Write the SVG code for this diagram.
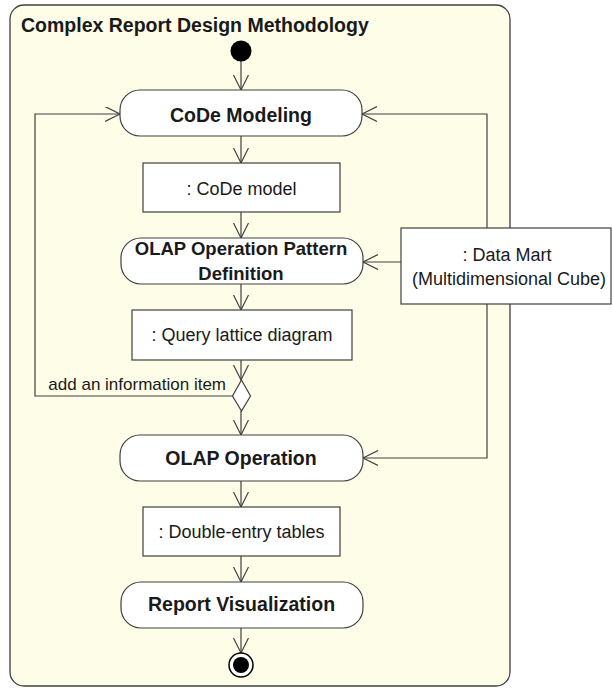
<svg xmlns="http://www.w3.org/2000/svg" width="613" height="688" viewBox="0 0 613 688">
<style>
  .frame{fill:#fdfde8;stroke:#404040;stroke-width:1.3}
  .act{fill:#ffffff;stroke:#404040;stroke-width:1.2}
  .obj{fill:#ffffff;stroke:#404040;stroke-width:1.2}
  .edge{fill:none;stroke:#404040;stroke-width:1.2}
  .b{font-family:"Liberation Sans",Arial,sans-serif;font-weight:bold;font-size:19.5px;fill:#1a1a1a;text-anchor:middle}
  .b2{font-size:18.5px}
  .r{font-family:"Liberation Sans",Arial,sans-serif;font-size:18px;fill:#1a1a1a;text-anchor:middle}
  .t{font-family:"Liberation Sans",Arial,sans-serif;font-weight:bold;font-size:19.5px;fill:#1a1a1a}
  .l{font-family:"Liberation Sans",Arial,sans-serif;font-size:17px;fill:#1a1a1a;text-anchor:end}
</style>
<defs>
  <marker id="arr" markerUnits="userSpaceOnUse" markerWidth="18" markerHeight="18" refX="15" refY="7.5" orient="auto">
    <path d="M0,0 L15,7.5 L0,15" fill="none" stroke="#404040" stroke-width="1.2"/>
  </marker>
</defs>
<rect width="613" height="688" fill="#ffffff"/>
<g id="frame">
  <rect class="frame" x="10" y="5" width="500" height="681" rx="14" ry="14"/>
  <text class="t" x="21" y="32">Complex Report Design Methodology</text>
</g>
<g id="connectors">
  <line class="edge" x1="241" y1="61" x2="241" y2="90" marker-end="url(#arr)"/>
  <line class="edge" x1="241" y1="136" x2="241" y2="163" marker-end="url(#arr)"/>
  <line class="edge" x1="241" y1="212" x2="241" y2="238" marker-end="url(#arr)"/>
  <line class="edge" x1="241" y1="284" x2="241" y2="310" marker-end="url(#arr)"/>
  <line class="edge" x1="241" y1="360" x2="241" y2="380" marker-end="url(#arr)"/>
  <polyline class="edge" points="233,396 35,396 35,114 120,114" marker-end="url(#arr)"/>
  <line class="edge" x1="241" y1="411" x2="241" y2="435" marker-end="url(#arr)"/>
  <line class="edge" x1="241" y1="481" x2="241" y2="507" marker-end="url(#arr)"/>
  <line class="edge" x1="241" y1="556" x2="241" y2="582" marker-end="url(#arr)"/>
  <line class="edge" x1="241" y1="628" x2="241" y2="653" marker-end="url(#arr)"/>
  <line class="edge" x1="401" y1="262" x2="363" y2="262" marker-end="url(#arr)"/>
  <polyline class="edge" points="487,228 487,114 362,114" marker-end="url(#arr)"/>
  <polyline class="edge" points="487,304 487,458 363,458" marker-end="url(#arr)"/>
  <text class="l" x="226" y="390">add an information item</text>
</g>
<g id="initial">
  <circle cx="241" cy="51" r="10.5" fill="#000000"/>
</g>
<g id="codeModeling">
  <rect class="act" x="120" y="90" width="242" height="46" rx="20" ry="20"/>
  <text class="b" x="241" y="122">CoDe Modeling</text>
</g>
<g id="codeModel">
  <rect class="obj" x="143" y="163" width="197" height="49"/>
  <text class="r" x="241.5" y="195">: CoDe model</text>
</g>
<g id="olapPattern">
  <rect class="act" x="121" y="238" width="242" height="46" rx="20" ry="20"/>
  <text class="b b2" x="241" y="255">OLAP Operation Pattern</text>
  <text class="b b2" x="241" y="280">Definition</text>
</g>
<g id="dataMart">
  <rect class="obj" x="401" y="228" width="210" height="76"/>
  <text class="r" x="507" y="261">: Data Mart</text>
  <text class="r" x="509" y="285">(Multidimensional Cube)</text>
</g>
<g id="queryLattice">
  <rect class="obj" x="132" y="310" width="220" height="50"/>
  <text class="r" x="242" y="341">: Query lattice diagram</text>
</g>
<g id="decision">
  <polygon points="241.5,380 250.5,396 241.5,411 232.5,396" fill="#ffffff" stroke="#404040" stroke-width="1.2"/>
</g>
<g id="olapOperation">
  <rect class="act" x="120" y="435" width="243" height="46" rx="20" ry="20"/>
  <text class="b" x="241" y="465">OLAP Operation</text>
</g>
<g id="doubleEntry">
  <rect class="obj" x="143" y="507" width="197" height="49"/>
  <text class="r" x="241.5" y="538">: Double-entry tables</text>
</g>
<g id="reportVis">
  <rect class="act" x="121" y="582" width="242" height="46" rx="20" ry="20"/>
  <text class="b" x="241.5" y="611">Report Visualization</text>
</g>
<g id="final">
  <circle cx="241" cy="665" r="12" fill="#ffffff" stroke="#000000" stroke-width="1.5"/>
  <circle cx="241" cy="665" r="8" fill="#000000"/>
</g>
</svg>
